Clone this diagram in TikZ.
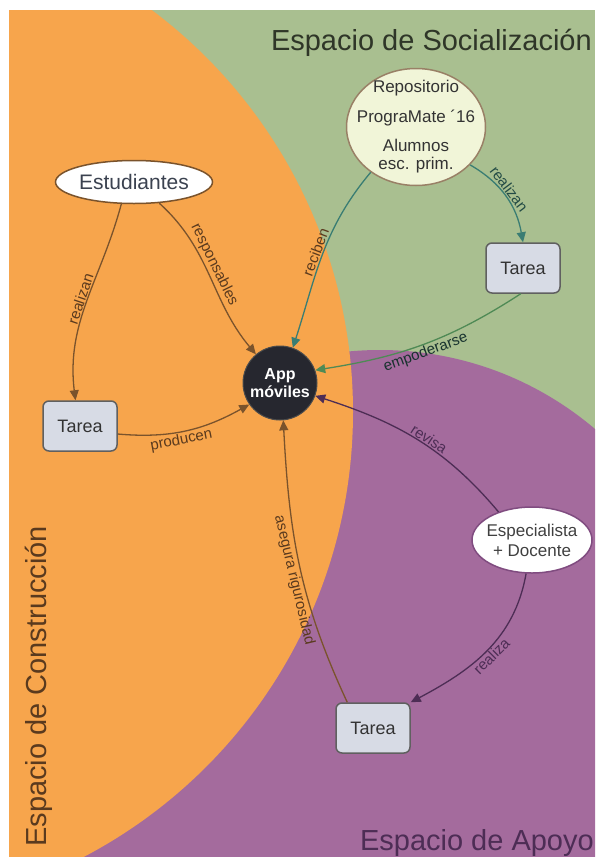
\documentclass[tikz,border=0pt]{standalone}
\usepackage{fontspec}
\setmainfont{Liberation Sans}
\usetikzlibrary{arrows.meta, shapes.geometric}
\definecolor{verdefondo}{HTML}{A9BF90}
\definecolor{naranja}{HTML}{F7A54C}
\definecolor{morado}{HTML}{A46B9D}
\definecolor{cafe}{HTML}{7A532C}
\definecolor{cafeosc}{HTML}{5A3A1E}
\definecolor{verdeazul}{HTML}{3A7D73}
\definecolor{verdeosc}{HTML}{4F8A55}
\definecolor{moradoosc}{HTML}{4D2D55}
\definecolor{grisazul}{HTML}{D7DBE5}
\definecolor{crema}{HTML}{F1F5D8}
\definecolor{pizarra}{HTML}{3B4250}
\definecolor{appfondo}{HTML}{26272F}
\tikzset{
  concepto/.style = {draw, ellipse, line width=1.5pt, inner sep=0},
  tarea/.style = {draw=gray!75!black, fill=grisazul, rounded corners=6pt, line width=1.5pt, minimum width=74pt, minimum height=50pt, text=black!80, font=\fontsize{18}{20}\selectfont},
  enlace/.style = {line width=1.3pt, -{Triangle[length=10pt, width=9pt]}},
  etiqueta/.style = {sloped, inner sep=1pt, font=\fontsize{15}{16}\selectfont},
  espacio/.style = {inner sep=0, font=\fontsize{29}{32}\selectfont}
}
\begin{document}
\begin{tikzpicture}[x=1pt, y=1pt]
    \useasboundingbox (0, 0) rectangle (595, -857);
    \fill [verdefondo] (9, -10) rectangle (595, -857);
    \begin{scope}
      \clip (9, -10) rectangle (595, -857);
      \fill [morado] (380, -682) circle (332);
      \fill [morado] (9, -650) rectangle (380, -857);
      \fill [naranja] (-149, -412) circle (502);
    \end{scope}

    \node [espacio, text=black!60!verdefondo!70!black, anchor=base east] (socializacion) at (592, -50) {Espacio de Socialización};
    \node [espacio, text=moradoosc, anchor=base east] (apoyo) at (594, -850) {Espacio de Apoyo};
    \node [espacio, text=cafeosc, rotate=90, anchor=base west] (construccion) at (46, -847) {Espacio de Construcción};

    \node [concepto, draw=cafe, fill=white, minimum width=157pt, minimum height=43pt,
      label={[text=pizarra, font=\fontsize{21}{23}\selectfont]center:Estudiantes}] (estudiantes) at (134, -182) {};
    \node [concepto, draw=gray!60!brown, fill=crema, minimum width=139pt, minimum height=117pt,
      label={[align=center, text=black!80, font=\fontsize{17}{18}\selectfont]center:Repositorio\\[12pt]PrograMate ´16\\[11pt]Alumnos\\esc. prim.}] (repositorio) at (416, -127) {};
    \node [concepto, draw=gray!60!violet, fill=white, minimum width=120pt, minimum height=66pt,
      label={[align=center, text=black!75, font=\fontsize{17}{20}\selectfont]center:Especialista\\+ Docente}] (especialista) at (532, -540) {};
    \node [circle, fill=appfondo, draw=black!70, line width=1pt, minimum size=74pt, inner sep=0, align=center, text=white, font=\bfseries\fontsize{16}{18}\selectfont] (app) at (280, -383) {App\\móviles};

    \node [tarea] (tareaSoc) at (523, -268) {Tarea};
    \node [tarea] (tareaCons) at (80, -426) {Tarea};
    \node [tarea] (tareaApoyo) at (373, -728) {Tarea};

    \draw [enlace, cafe] (estudiantes.240) to [out=-105, in=97] node [etiqueta, above, text=cafeosc] {realizan} (tareaCons.100);
    \draw [enlace, cafe] (estudiantes.-40) to [out=-42, in=130] node [etiqueta, above, pos=0.45, text=cafeosc] {responsables} (app.130);
    \draw [enlace, verdeazul] (repositorio.225) to [out=-130, in=72] node [etiqueta, above, pos=0.5, text=cafeosc] {reciben} (app.70);
    \draw [enlace, verdeazul] (repositorio.-35) to [out=-30, in=100] node [etiqueta, above, pos=0.45, text=verdeazul!60!black] {realizan} (tareaSoc.north);
    \draw [enlace, verdeosc] (tareaSoc.-95) to [out=-147, in=9] node [etiqueta, below, pos=0.5, text=verdeazul!40!black] {empoderarse} (app.20);
    \draw [enlace, cafe] (tareaCons.-12) to [out=-5, in=209] node [etiqueta, below, pos=0.45, text=cafeosc] {producen} (app.215);
    \draw [enlace, cafe] (tareaApoyo.135) to [out=115, in=-87] node [etiqueta, below, pos=0.45, text=cafeosc] {asegura rigurosidad} (app.-85);
    \draw [enlace, moradoosc] (especialista.140) to [out=130, in=-18] node [etiqueta, above, pos=0.45, text=moradoosc] {revisa} (app.-20);
    \draw [enlace, moradoosc] (especialista.-100) to [out=-100, in=28] node [etiqueta, below, pos=0.5, text=moradoosc] {realiza} (tareaApoyo.north east);
\end{tikzpicture}
\end{document}
